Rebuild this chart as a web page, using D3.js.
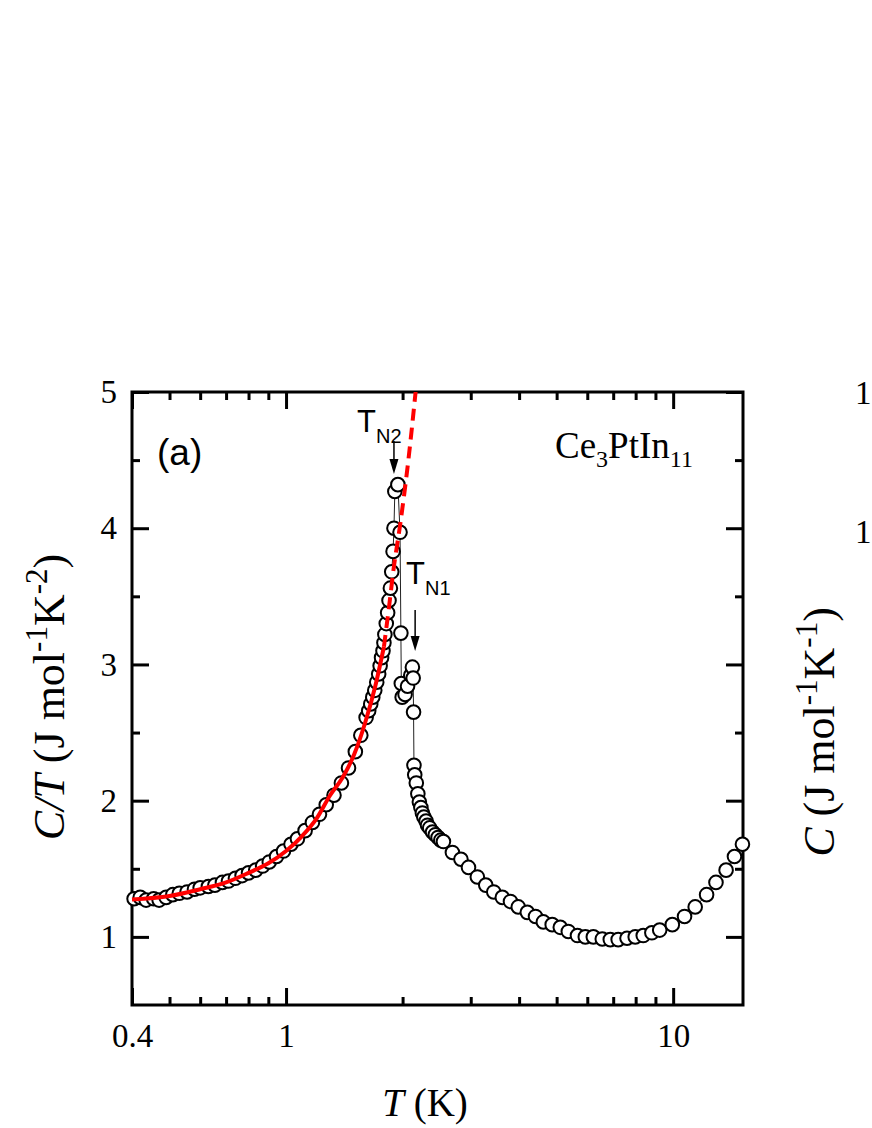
<!DOCTYPE html>
<html>
<head>
<meta charset="utf-8">
<script src="https://cdn.jsdelivr.net/npm/d3@7"></script>
<style>
  body { margin: 0; background: #fff; }
  svg { display: block; }
</style>
</head>
<body>
<svg id="chart"></svg>
<script>
const tempK = [
  0.405, 0.42, 0.435, 0.455, 0.47, 0.49, 0.51, 0.53, 0.555, 0.58, 0.60, 0.63, 0.655, 0.685, 0.71,
  0.74, 0.77, 0.80, 0.835, 0.87, 0.905, 0.945, 0.985, 1.03, 1.07, 1.12, 1.17, 1.22, 1.27, 1.33,
  1.39, 1.45, 1.51, 1.56, 1.61, 1.635, 1.655, 1.675, 1.695, 1.715, 1.735, 1.75, 1.765, 1.78, 1.79,
  1.80, 1.815, 1.83, 1.845, 1.86, 1.875, 1.89, 1.90, 1.91, 1.945, 1.97, 1.98,
  1.985, 1.995, 2.03, 2.06, 2.10, 2.12, 2.13, 2.135, 2.14, 2.15, 2.17, 2.19, 2.21, 2.23, 2.25,
  2.27, 2.30, 2.32, 2.35, 2.39, 2.43, 2.47, 2.51, 2.55, 2.69, 2.83, 2.96, 3.12, 3.28, 3.44, 3.62,
  3.80, 3.98, 4.20, 4.41, 4.62, 4.87, 5.11, 5.36, 5.66, 5.93, 6.22, 6.56, 6.88, 7.21, 7.60, 7.98,
  8.37, 8.81, 9.23, 9.95, 10.7, 11.4, 12.2, 12.9, 13.7, 14.4, 15.1
];
const cOverT = [
  1.28, 1.29, 1.27, 1.28, 1.27, 1.29, 1.31, 1.32, 1.33, 1.35, 1.36, 1.37, 1.38, 1.40, 1.41,
  1.43, 1.45, 1.47, 1.49, 1.52, 1.55, 1.59, 1.63, 1.68, 1.72, 1.78, 1.84, 1.90, 1.97, 2.04,
  2.13, 2.24, 2.36, 2.48, 2.61, 2.66, 2.71, 2.76, 2.81, 2.87, 2.93, 2.99, 3.05, 3.10, 3.16,
  3.22, 3.30, 3.38, 3.47, 3.56, 3.68, 3.83, 4.00, 4.27, 4.32, 3.97, 3.23,
  2.86, 2.76, 2.78, 2.84, 2.92, 2.98, 2.90, 2.65, 2.26, 2.19, 2.13, 2.05, 1.99, 1.95, 1.91,
  1.88, 1.85, 1.82, 1.80, 1.77, 1.75, 1.73, 1.71, 1.70, 1.62, 1.57, 1.51, 1.44, 1.38, 1.33, 1.29,
  1.26, 1.22, 1.18, 1.15, 1.11, 1.09, 1.07, 1.04, 1.01, 1.00, 1.00, 0.985, 0.98, 0.98, 0.99, 1.00,
  1.01, 1.03, 1.05, 1.09, 1.15, 1.22, 1.31, 1.40, 1.49, 1.59, 1.68
];

// fit curve (red), solid part and dashed extrapolation
const fitT = [0.4, 0.5, 0.6, 0.7, 0.8, 0.9, 1.0, 1.1, 1.2, 1.3, 1.4, 1.5, 1.6, 1.7, 1.79];
const fitCT = [1.275, 1.30, 1.35, 1.40, 1.47, 1.54, 1.63, 1.74, 1.87, 2.04, 2.17, 2.34, 2.57, 2.84, 3.13];
const fitDashT = [1.79, 1.85, 1.90, 1.97, 2.07, 2.17];
const fitDashCT = [3.13, 3.45, 3.72, 4.02, 4.50, 5.05];

const xMajor = [0.4, 1, 10];
const xMinor = [0.5, 0.6, 0.7, 0.8, 0.9, 2, 3, 4, 5, 6, 7, 8, 9];
const yMajor = [1, 2, 3, 4, 5];
const yMinor = [1.5, 2.5, 3.5, 4.5];

const W = 872, H = 1128;
const plot = {left: 132, right: 743, top: 392, bottom: 1005};
const serif = "'Liberation Serif', 'Times New Roman', serif";
const sans = "'Liberation Sans', Arial, sans-serif";

const svg = d3.select("#chart").attr("width", W).attr("height", H);
svg.append("rect").attr("width", W).attr("height", H).attr("fill", "#fff");

const x = d3.scaleLog().domain([0.4, 15.15]).range([plot.left, plot.right]);
const y = d3.scaleLinear().domain([0.5, 5]).range([plot.bottom, plot.top]);

svg.append("defs").append("clipPath").attr("id", "clip")
  .append("rect")
    .attr("x", plot.left).attr("y", plot.top)
    .attr("width", plot.right - plot.left).attr("height", plot.bottom - plot.top);

// axes, ticks pointing inward on all four sides
function styleAxis(g) {
  g.select(".domain").remove();
  g.selectAll(".tick line").attr("stroke", "#000").attr("stroke-width", 3);
  g.selectAll("text").attr("font-family", serif).attr("font-size", 33).attr("fill", "#000");
}
const fmtX = d => d === 0.4 ? "0.4" : d3.format("d")(d);

svg.append("g").attr("transform", `translate(0,${plot.bottom})`)
  .call(d3.axisBottom(x).tickValues(xMajor).tickSize(-17).tickPadding(19).tickFormat(fmtX))
  .call(styleAxis);
svg.append("g").attr("transform", `translate(0,${plot.bottom})`)
  .call(d3.axisBottom(x).tickValues(xMinor).tickSize(-8).tickFormat(""))
  .call(styleAxis);
svg.append("g").attr("transform", `translate(0,${plot.top})`)
  .call(d3.axisTop(x).tickValues(xMajor).tickSize(-17).tickFormat(""))
  .call(styleAxis);
svg.append("g").attr("transform", `translate(0,${plot.top})`)
  .call(d3.axisTop(x).tickValues(xMinor).tickSize(-8).tickFormat(""))
  .call(styleAxis);

svg.append("g").attr("transform", `translate(${plot.left},0)`)
  .call(d3.axisLeft(y).tickValues(yMajor).tickSize(-17).tickPadding(15).tickFormat(d3.format("d")))
  .call(styleAxis);
svg.append("g").attr("transform", `translate(${plot.left},0)`)
  .call(d3.axisLeft(y).tickValues(yMinor).tickSize(-8).tickFormat(""))
  .call(styleAxis);
svg.append("g").attr("transform", `translate(${plot.right},0)`)
  .call(d3.axisRight(y).tickValues(yMajor).tickSize(-17).tickFormat(""))
  .call(styleAxis);
svg.append("g").attr("transform", `translate(${plot.right},0)`)
  .call(d3.axisRight(y).tickValues(yMinor).tickSize(-8).tickFormat(""))
  .call(styleAxis);

// frame
svg.append("rect")
  .attr("x", plot.left).attr("y", plot.top)
  .attr("width", plot.right - plot.left).attr("height", plot.bottom - plot.top)
  .attr("fill", "none").attr("stroke", "#000").attr("stroke-width", 3);

const data = tempK.map((t, i) => ({t, v: cOverT[i]}));
const line = d3.line().x(d => x(d.t)).y(d => y(d.v));

// thin connecting line
svg.append("path")
  .datum(data)
  .attr("d", line)
  .attr("fill", "none").attr("stroke", "#222").attr("stroke-width", 1);

// open circles
svg.append("g")
  .selectAll("circle")
  .data(data)
  .join("circle")
    .attr("cx", d => x(d.t))
    .attr("cy", d => y(d.v))
    .attr("r", 6.8)
    .attr("fill", "#fff")
    .attr("stroke", "#000")
    .attr("stroke-width", 2);

// red fit, drawn over the symbols
const fitLine = d3.line().x(d => x(d.t)).y(d => y(d.v)).curve(d3.curveMonotoneX);
svg.append("path")
  .datum(fitT.map((t, i) => ({t, v: fitCT[i]})))
  .attr("d", fitLine)
  .attr("fill", "none").attr("stroke", "#ff0000").attr("stroke-width", 4);
svg.append("path")
  .datum(fitDashT.map((t, i) => ({t, v: fitDashCT[i]})))
  .attr("clip-path", "url(#clip)")
  .attr("d", fitLine)
  .attr("fill", "none").attr("stroke", "#ff0000").attr("stroke-width", 4)
  .attr("stroke-dasharray", "12,7");

// transition arrows
function arrow(xp, y0, y1) {
  svg.append("line").attr("x1", xp).attr("x2", xp).attr("y1", y0).attr("y2", y1 - 12)
    .attr("stroke", "#000").attr("stroke-width", 1.5);
  svg.append("path")
    .attr("d", `M${xp - 4.5},${y1 - 15} L${xp + 4.5},${y1 - 15} L${xp},${y1} Z`)
    .attr("fill", "#000");
}
arrow(x(1.90), 441, 474);
arrow(x(2.155), 610, 651);

function tLabel(px, py, sub) {
  const t = svg.append("text").attr("x", px).attr("y", py)
    .attr("font-family", sans).attr("font-size", 31).attr("fill", "#000");
  t.append("tspan").text("T");
  t.append("tspan").attr("dy", 11).attr("font-size", 20).text(sub);
}
tLabel(357, 432, "N2");
tLabel(406, 584, "N1");

svg.append("text").attr("x", 157).attr("y", 465)
  .attr("font-family", sans).attr("font-size", 37).attr("fill", "#000").text("(a)");

const ce = svg.append("text").attr("x", 555).attr("y", 458)
  .attr("font-family", serif).attr("font-size", 37).attr("fill", "#000");
ce.append("tspan").text("Ce");
ce.append("tspan").attr("dy", 9).attr("font-size", 24).text("3");
ce.append("tspan").attr("dy", -9).text("PtIn");
ce.append("tspan").attr("dy", 9).attr("font-size", 24).text("11");

// axis titles
const xt = svg.append("text").attr("x", 425).attr("y", 1116).attr("text-anchor", "middle")
  .attr("font-family", serif).attr("font-size", 39).attr("fill", "#000");
xt.append("tspan").attr("font-style", "italic").text("T");
xt.append("tspan").text(" (K)");

function yTitle(cx, cy, main, exp2) {
  const g = svg.append("text")
    .attr("transform", `translate(${cx},${cy}) rotate(-90)`)
    .attr("text-anchor", "middle")
    .attr("font-family", serif).attr("font-size", 44).attr("fill", "#000");
  g.append("tspan").attr("font-style", "italic").text(main);
  g.append("tspan").text(" (J mol");
  g.append("tspan").attr("dy", -17).attr("font-size", 31).text("-1");
  g.append("tspan").attr("dy", 17).text("K");
  g.append("tspan").attr("dy", -17).attr("font-size", 31).text(exp2);
  g.append("tspan").attr("dy", 17).text(")");
}
yTitle(64, 697, "C/T", "-2");

// edge of the neighbouring panel (b)
yTitle(834, 732, "C", "-1");
svg.append("text").attr("x", 855).attr("y", 404)
  .attr("font-family", serif).attr("font-size", 33).attr("fill", "#000").text("1");
svg.append("text").attr("x", 855).attr("y", 543)
  .attr("font-family", serif).attr("font-size", 33).attr("fill", "#000").text("1");
</script>
</body>
</html>
